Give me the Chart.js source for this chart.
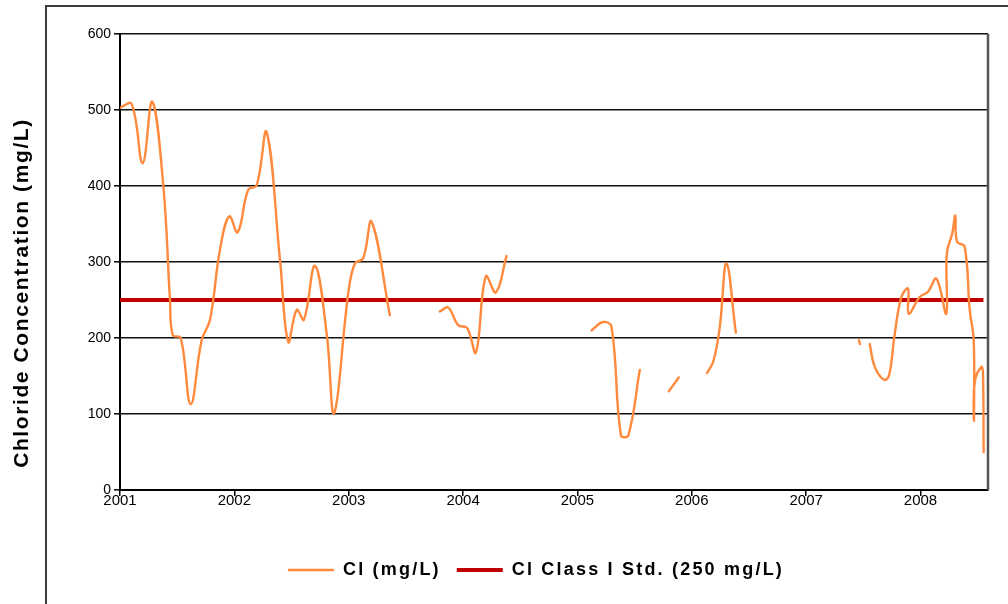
<!DOCTYPE html>
<html><head><meta charset="utf-8">
<script src="https://cdn.jsdelivr.net/npm/chart.js@4.4.1/dist/chart.umd.min.js"></script>
<style>
html,body{margin:0;padding:0;background:#fff;width:1008px;height:604px;overflow:hidden}
#frame{position:absolute;left:45px;top:5px;width:1000px;height:700px;border:2px solid #3c3c3c;box-sizing:border-box}
#wrap{position:absolute;left:0;top:0;width:1008px;height:604px}
</style></head><body>
<div id="frame"></div>
<div id="wrap"><canvas id="c" width="1008" height="604"></canvas></div>
<script>
// sampling dates (decimal years) and chloride values (mg/L); null = no data (gap)
const sampleYears = [
  2001.000,2001.102,2001.198,2001.282,2001.379,2001.437,2001.461,2001.531,2001.618,2001.714,
  2001.787,2001.874,2001.955,2002.029,2002.121,2002.195,2002.282,2002.399,2002.471,2002.545,
  2002.608,2002.705,2002.807,2002.873,2002.996,2003.054,2003.127,2003.200,2003.360,
  2003.580,
  2003.797,2003.870,2003.957,2004.036,2004.112,2004.199,2004.287,2004.380,
  2004.750,
  2005.123,2005.225,2005.298,2005.380,2005.445,2005.545,
  2005.670,
  2005.799,2005.886,
  2006.010,
  2006.134,2006.190,2006.245,2006.303,2006.385,
  2006.900,
  2007.462,2007.470,
  2007.510,
  2007.556,2007.600,2007.681,2007.725,2007.775,2007.833,2007.891,2007.897,2007.993,2008.066,
  2008.139,2008.225,2008.230,2008.278,2008.304,2008.319,2008.386,2008.430,2008.465,2008.468,
  2008.474,2008.532,2008.546,2008.552
];
const clValues = [
  503,508,430,511,400,250,204,200,113,197,
  224,316,360,339,395,401,471,303,195,237,
  224,295,206,101,259,298,305,353,230,
  null,
  235,240,217,213,181,281,260,308,
  null,
  210,221,215,72,72,158,
  null,
  130,148,
  null,
  154,170,215,298,207,
  null,
  197,192,
  null,
  192,162,145,151,206,254,265,232,254,261,
  278,232,311,338,361,327,320,237,197,92,
  142,162,154,50
];
const stdYears = [2001.0, 2008.55];
const stdValues = [250, 250];
const xTickYears = [2001, 2002, 2003, 2004, 2005, 2006, 2007, 2008];
const yMin = 0, yMax = 600, yStep = 100;
const seriesLabels = ['Cl (mg/L)', 'Cl Class I Std. (250 mg/L)'];
const yTitle = 'Chloride Concentration (mg/L)';

const FONT = "'Liberation Sans', Arial, sans-serif";
const LEGEND_SPACING = '2.2px';

const framePlugin = {
  id: 'framePlugin',
  afterLayout(chart) {
    const L = chart.legend;
    if (L) {
      const shiftX = 536 - (L.left + L.right) / 2;
      L.left += shiftX; L.right += shiftX;
      const shiftY = 567 - (L.top + L.bottom) / 2;
      L.top += shiftY; L.bottom += shiftY;
    }
  },
  afterDraw(chart) {
    const {ctx, chartArea} = chart;
    ctx.save();
    ctx.strokeStyle = '#555';
    ctx.lineWidth = 2.5;
    ctx.beginPath();
    ctx.moveTo(chartArea.right, chartArea.top);
    ctx.lineTo(chartArea.right, chartArea.bottom);
    ctx.stroke();
    ctx.translate(22, 293);
    ctx.rotate(-Math.PI / 2);
    ctx.fillStyle = '#000';
    ctx.font = 'bold 21px ' + FONT;
    ctx.letterSpacing = '1.6px';
    ctx.textAlign = 'center';
    ctx.textBaseline = 'middle';
    ctx.fillText(yTitle, 0, 0);
    ctx.restore();
  }
};

const chart = new Chart(document.getElementById('c'), {
  type: 'line',
  data: {
    datasets: [
      {
        label: seriesLabels[0],
        data: sampleYears.map((x, i) => ({x, y: clValues[i]})),
        borderColor: '#FF8A3D',
        backgroundColor: '#FF8A3D',
        borderWidth: 2.4,
        pointRadius: 0,
        tension: 0.4,
        spanGaps: false,
        borderCapStyle: 'round',
        borderJoinStyle: 'round',
        order: 1
      },
      {
        label: seriesLabels[1],
        data: stdYears.map((x, i) => ({x, y: stdValues[i]})),
        borderColor: '#C00000',
        backgroundColor: '#C00000',
        borderWidth: 4,
        pointRadius: 0,
        tension: 0,
        order: 2
      }
    ]
  },
  options: {
    responsive: false,
    animation: false,
    layout: {padding: {left: 0, right: 20, top: 34, bottom: 20}},
    plugins: {
      legend: {
        position: 'bottom',
        labels: {
          usePointStyle: true,
          pointStyleWidth: 46,
          pointStyle: 'line',
          padding: 16,
          color: '#000',
          font: {family: FONT, size: 18, weight: 'bold'}
        }
      },
      title: {display: false},
      tooltip: {enabled: false}
    },
    scales: {
      x: {
        type: 'linear',
        min: 2001,
        max: 2008.59,
        afterBuildTicks(scale) { scale.ticks = xTickYears.map(v => ({value: v})); },
        afterFit(scale) { scale.height = 50; },
        ticks: {
          color: '#000',
          padding: -4,
          font: {family: FONT, size: 15},
          callback: v => String(v)
        },
        grid: {drawOnChartArea: false, drawTicks: true, tickLength: 6, color: '#000', lineWidth: 1.5},
        border: {display: true, color: '#000', width: 2}
      },
      y: {
        type: 'linear',
        min: yMin,
        max: yMax,
        afterFit(scale) { scale.width = 120; },
        ticks: {
          stepSize: yStep,
          color: '#000',
          padding: 3,
          font: {family: FONT, size: 14}
        },
        grid: {color: '#111', lineWidth: 1.6, tickLength: 6, drawTicks: true},
        border: {display: true, color: '#000', width: 2}
      }
    }
  },
  plugins: [framePlugin]
});

// give the legend text the wide letter spacing seen in the reference
const lg = chart.legend;
const origFit = lg.fit.bind(lg);
const origDraw = lg.draw.bind(lg);
lg.fit = function () { const c = this.ctx; const o = c.letterSpacing; c.letterSpacing = LEGEND_SPACING; origFit(); c.letterSpacing = o || '0px'; };
lg.draw = function (a) { const c = this.ctx; const o = c.letterSpacing; c.letterSpacing = LEGEND_SPACING; origDraw(a); c.letterSpacing = o || '0px'; };
chart.update();
</script>
</body></html>
